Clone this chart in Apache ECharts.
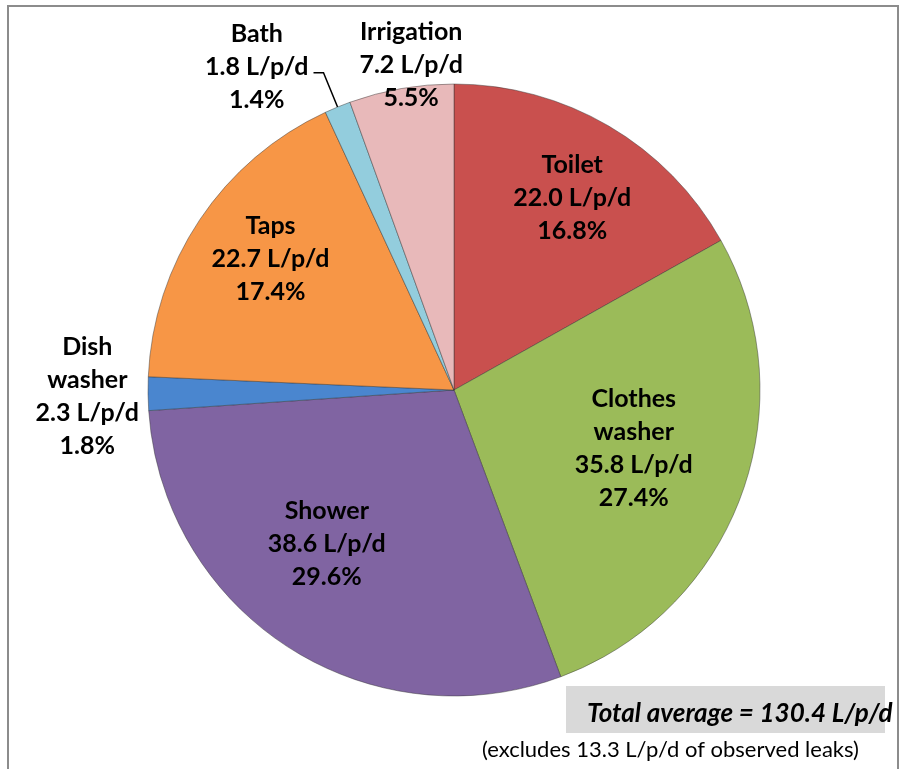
<!DOCTYPE html>
<html>
<head>
<meta charset="utf-8">
<script src="https://cdn.jsdelivr.net/npm/echarts@6/dist/echarts.min.js"></script>
<style>
  html, body { margin: 0; padding: 0; background: #fff; }
  #chart { width: 900px; height: 769px; }
</style>
</head>
<body>
<div id="chart"></div>
<script>
// household end uses, L/p/d
const categories = ['Toilet', 'Clothes\nwasher', 'Shower', 'Dish\nwasher', 'Taps', 'Bath', 'Irrigation'];
const usage = [22.0, 35.8, 38.6, 2.3, 22.7, 1.8, 7.2];
const shares = [16.8, 27.4, 29.6, 1.8, 17.4, 1.4, 5.5];
const colors = ['#C9504E', '#9BBB59', '#8064A2', '#4A86CF', '#F79646', '#93CDDD', '#E8B9BA'];
// which labels sit outside the pie
const outside = [false, false, false, true, false, true, true];

const totalText = 'Total average = 130.4 L/p/d';
const noteText = '(excludes 13.3 L/p/d of observed leaks)';

const labelFont = {
  fontFamily: 'Lato',
  fontWeight: 'bold',
  fontSize: 25,
  lineHeight: 33,
  color: '#000',
};

// small nudges so the labels land where the original put them
const insideShift = { 0: [9, -6], 1: [-23, -16], 2: [-10, -28], 4: [-4, -11] };
const outsideShift = { 3: [-2, 3], 6: [67, -22] };

function labelText(i) {
  const lines = categories[i].split('\n').concat([usage[i].toFixed(1) + ' L/p/d', shares[i].toFixed(1) + '%']);
  return lines.map((s) => '{a|' + s + '}').join('\n');
}

const chart = echarts.init(document.getElementById('chart'));

const mainData = categories.map((name, i) => ({
  name,
  value: usage[i],
  itemStyle: { color: colors[i] },
  label: i === 5 ? { show: true, padding: [0, 0, 11, 0] } : { show: outside[i] },
  labelLine: i === 5
    ? { show: true, length: 37, length2: 10, lineStyle: { color: '#000', width: 1.5 } }
    : { show: false, length: 2, length2: 0 },
}));

const overlayData = categories.map((name, i) => ({
  name,
  value: usage[i],
  label: { show: !outside[i] },
}));

chart.setOption({
  backgroundColor: '#fff',
  animation: false,
  graphic: [
    {
      type: 'rect',
      shape: { x: 8, y: 6, width: 890, height: 820 },
      style: { fill: 'none', stroke: '#8c8c8c', lineWidth: 2 },
      z: 100,
    },
    {
      type: 'rect',
      shape: { x: 566, y: 686, width: 319, height: 47 },
      style: { fill: '#d9d9d9' },
    },
    {
      type: 'text',
      x: 587,
      y: 714,
      style: {
        text: totalText,
        fontFamily: 'Lato',
        fontWeight: 'bold',
        fontStyle: 'italic',
        fontSize: 26,
        fill: '#000',
        verticalAlign: 'middle',
      },
    },
    {
      type: 'text',
      x: 482,
      y: 750,
      style: {
        text: noteText,
        fontFamily: 'Lato',
        fontSize: 22,
        fill: '#000',
        verticalAlign: 'middle',
      },
    },
  ],
  series: [
    {
      type: 'pie',
      center: [454, 390],
      radius: 306,
      startAngle: 90,
      clockwise: true,
      avoidLabelOverlap: false,
      silent: true,
      itemStyle: { borderColor: 'rgba(50,50,50,0.45)', borderWidth: 1 },
      label: {
        position: 'outside',
        formatter: (p) => labelText(p.dataIndex),
        rich: { a: Object.assign({ align: 'center' }, labelFont) },
      },
      labelLayout: (p) => {
        const s = outsideShift[p.dataIndex];
        return s ? { dx: s[0], dy: s[1] } : {};
      },
      data: mainData,
    },
    {
      type: 'pie',
      center: [454, 390],
      radius: [120, 306],
      startAngle: 90,
      clockwise: true,
      avoidLabelOverlap: false,
      silent: true,
      itemStyle: { color: 'rgba(0,0,0,0)' },
      label: {
        position: 'inside',
        formatter: (p) => labelText(p.dataIndex),
        rich: { a: Object.assign({ align: 'center' }, labelFont) },
      },
      labelLine: { show: false },
      labelLayout: (p) => {
        const s = insideShift[p.dataIndex];
        return s ? { dx: s[0], dy: s[1] } : {};
      },
      data: overlayData,
    },
  ],
});
</script>
</body>
</html>
